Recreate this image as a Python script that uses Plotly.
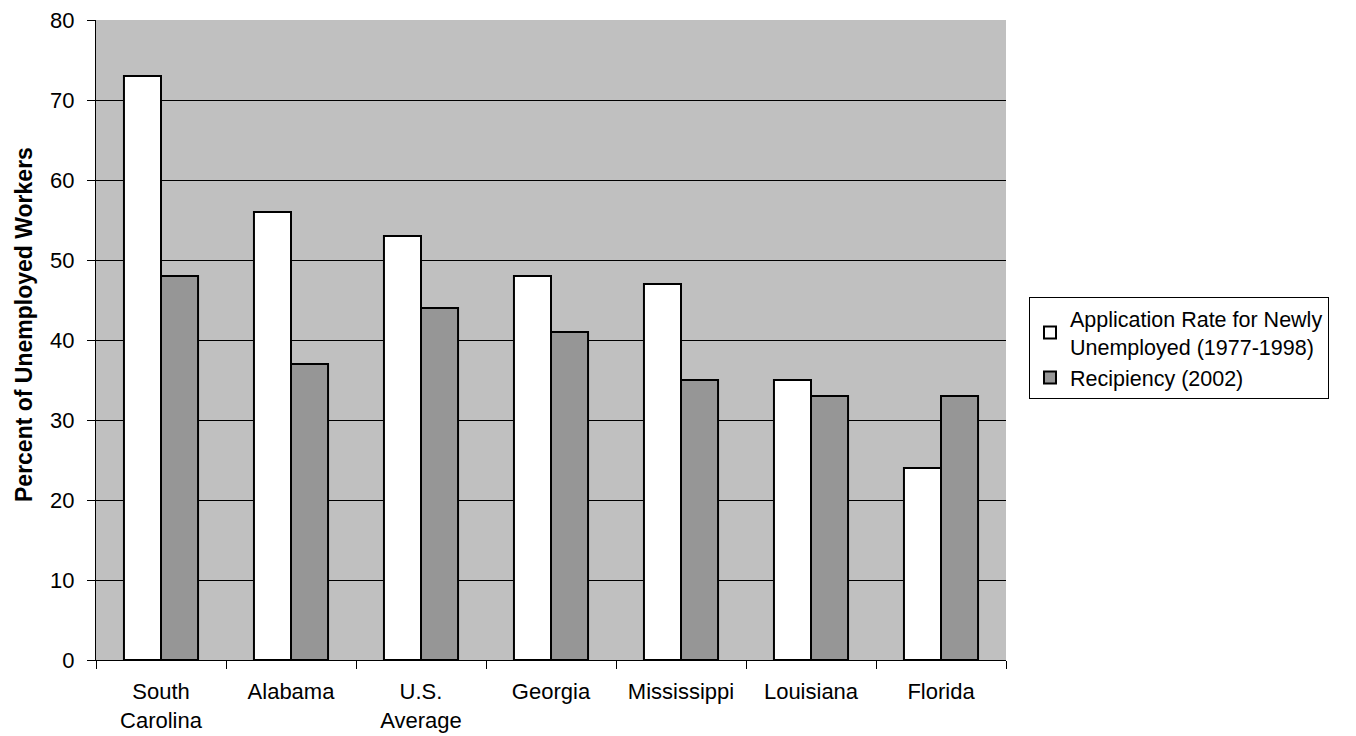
import plotly.graph_objects as go

categories = ["South<br>Carolina", "Alabama", "U.S.<br>Average", "Georgia", "Mississippi", "Louisiana", "Florida"]
application_rate = [73, 56, 53, 48, 47, 35, 24]
recipiency = [48, 37, 44, 41, 35, 33, 33]
series_names = ["Application Rate for Newly<br>Unemployed (1977-1998)", "Recipiency (2002)"]
y_title = "Percent of Unemployed Workers"

fig = go.Figure()
fig.add_trace(go.Bar(x=categories, y=application_rate, name=series_names[0],
                     marker=dict(color="white", line=dict(color="black", width=2))))
fig.add_trace(go.Bar(x=categories, y=recipiency, name=series_names[1],
                     marker=dict(color="#969696", line=dict(color="black", width=2))))

font = "Liberation Sans, Arial, sans-serif"
# page body adds an 8px offset; figure coords = screen coords - 8
OFF = 8
L, R, T, B = 96 - OFF, 1006 - OFF, 20 - OFF, 660 - OFF
W, H = 1356 - OFF, 736 - OFF
fig.update_layout(
    width=W, height=H,
    margin=dict(l=L, r=W - R, t=T, b=H - B, autoexpand=False),
    paper_bgcolor="white", plot_bgcolor="#c0c0c0",
    barmode="group", bargap=0.43, bargroupgap=0,
    font=dict(family=font, size=22, color="black"),
    showlegend=True,
    legend=dict(x=(1029 - OFF - L) / (R - L), y=(B - (297 - OFF)) / (B - T),
                xanchor="left", yanchor="top",
                bordercolor="black", borderwidth=1, bgcolor="white",
                font=dict(size=21.5), tracegroupgap=16, itemwidth=30),
    xaxis=dict(showline=True, linecolor="black", linewidth=1, automargin=False,
               ticks="outside", tickson="boundaries", ticklen=8, tickcolor="black",
               ticklabelstandoff=12, ticklabeloverflow="allow",
               showgrid=False, tickfont=dict(size=22)),
    yaxis=dict(range=[0, 80], dtick=10, showline=True, linecolor="black", linewidth=1,
               automargin=False, ticklabeloverflow="allow",
               ticks="outside", ticklen=8, tickcolor="black", ticklabelstandoff=8,
               showgrid=True, gridcolor="black", gridwidth=1, zeroline=False,
               tickfont=dict(size=22)),
)
fig.add_annotation(text="<b>" + y_title + "</b>", xref="paper", yref="paper",
                   x=(24 - OFF - L) / (R - L), y=(B - (325 - OFF)) / (B - T),
                   xanchor="center", yanchor="middle", borderpad=0,
                   textangle=-90, showarrow=False, font=dict(size=23, family=font))
fig.write_html("out.html")
